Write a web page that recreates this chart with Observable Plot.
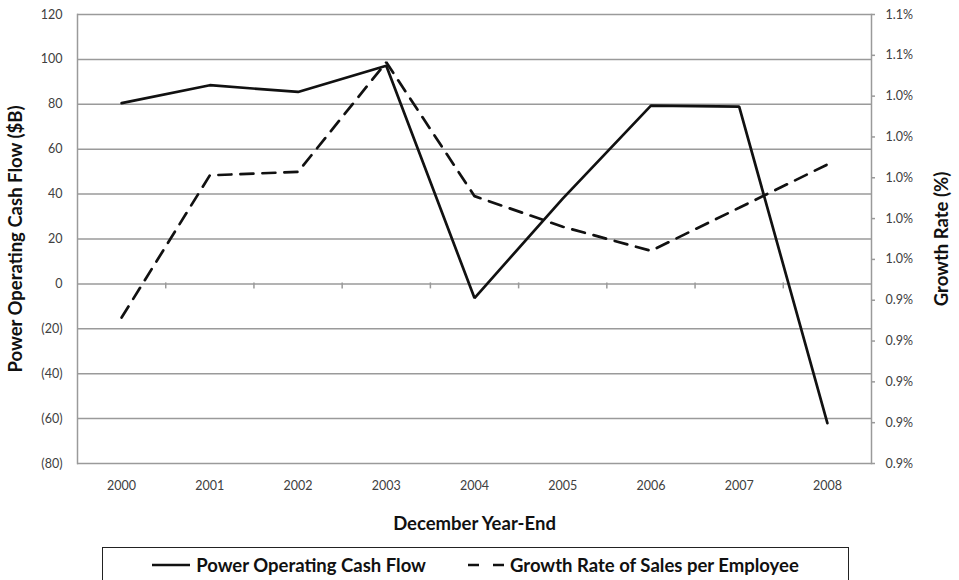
<!DOCTYPE html>
<html><head><meta charset="utf-8">
<script src="https://cdn.jsdelivr.net/npm/d3@7"></script>
<script src="https://cdn.jsdelivr.net/npm/@observablehq/plot@0.6"></script>
<style>
body{margin:0;background:#fff;font-family:Lato,"Open Sans",sans-serif;}
#chart svg{display:block;}
#legend{box-sizing:border-box;margin:5px 0 0 102px;width:747px;height:40px;border:1.5px solid #222;display:flex;justify-content:center;align-items:flex-start;padding-top:6px;gap:40px;font-weight:bold;font-size:18.5px;color:#111;}
#legend .item{display:flex;align-items:center;gap:4px;}
</style></head><body>
<div id="chart"></div>
<div id="legend"></div>
<script>
const years = [2000, 2001, 2002, 2003, 2004, 2005, 2006, 2007, 2008];
const cashFlow = [80.5, 88.5, 85.5, 97.2, -6.3, 38, 79.4, 79.0, -62];
const growthRate = [0.9315, 1.0012, 1.0029, 1.0566, 0.9910, 0.9760, 0.9642, 0.9853, 1.0065];
const leftTicks = [-80, -60, -40, -20, 0, 20, 40, 60, 80, 100, 120];
const rightTickValues = [0.86, 0.88, 0.90, 0.92, 0.94, 0.96, 0.98, 1.00, 1.02, 1.04, 1.06, 1.08];
const rightTickLabels = ["0.9%","0.9%","0.9%","0.9%","0.9%","1.0%","1.0%","1.0%","1.0%","1.0%","1.1%","1.1%"];
const seriesNames = ["Power Operating Cash Flow", "Growth Rate of Sales per Employee"];
const leftTitle = "Power Operating Cash Flow ($B)";
const rightTitle = "Growth Rate (%)";
const xTitle = "December Year-End";

const leftDomain = [leftTicks[0], leftTicks[leftTicks.length - 1]];
const rightDomain = [rightTickValues[0], rightTickValues[rightTickValues.length - 1]];
const toLeft = d3.scaleLinear().domain(rightDomain).range(leftDomain);
const rightTickPos = rightTickValues.map(toLeft);

const cashData = years.map((y, i) => ({year: y, value: cashFlow[i]}));
const growthData = years.map((y, i) => ({year: y, value: toLeft(growthRate[i])}));
const boundaries = years.slice(1).map(y => y - 0.5);
const xMax = years[years.length - 1] + 0.5;

const fmtLeft = d => d < 0 ? `(${-d})` : `${d}`;
const FONT = "Lato, 'Open Sans', sans-serif";

const plot = Plot.plot({
  width: 959,
  height: 542,
  marginLeft: 77,
  marginRight: 88,
  marginTop: 14,
  marginBottom: 79,
  style: {fontFamily: FONT, fontSize: "12.5px", background: "#fff"},
  x: {domain: [years[0] - 0.5, xMax], axis: null},
  y: {domain: leftDomain, axis: null},
  marks: [
    Plot.gridY(leftTicks, {stroke: "#9a9a9a", strokeOpacity: 1, strokeWidth: 1.5}),
    Plot.frame({anchor: "left", stroke: "#9a9a9a", strokeWidth: 1.5}),
    Plot.frame({anchor: "right", stroke: "#9a9a9a", strokeWidth: 1.5}),
    Plot.ruleX(boundaries, {y1: 0, y2: 0, insetBottom: -5, insetTop: -1, stroke: "#9a9a9a", strokeWidth: 1.5}),
    Plot.ruleY(rightTickPos, {x1: xMax, x2: xMax, insetRight: -4, stroke: "#9a9a9a", strokeWidth: 1.5}),
    Plot.axisY(leftTicks, {anchor: "left", tickSize: 0, tickPadding: 15, tickFormat: fmtLeft, label: null, fill: "#404040", fontSize: 12.5}),
    Plot.axisY(rightTickPos, {anchor: "right", tickSize: 0, tickPadding: 14, fill: "#404040", label: null, fontSize: 12.5,
      tickFormat: d => rightTickLabels[rightTickPos.findIndex(p => Math.abs(p - d) < 1e-9)]}),
    Plot.axisX(years, {anchor: "bottom", tickSize: 0, tickPadding: 18, tickFormat: d => `${d}`, label: null, fill: "#404040", fontSize: 12.5}),
    Plot.line(growthData, {x: "year", y: "value", stroke: "#111", strokeWidth: 2.7, strokeDasharray: "13,9", strokeLinejoin: "miter"}),
    Plot.line(cashData, {x: "year", y: "value", stroke: "#111", strokeWidth: 2.7, strokeLinejoin: "miter"}),
    Plot.text([leftTitle], {frameAnchor: "left", textAnchor: "middle", dx: -61, rotate: -90, text: d => d, fontWeight: "bold", fontSize: 18.5, fill: "#111"}),
    Plot.text([rightTitle], {frameAnchor: "right", textAnchor: "middle", dx: 71, rotate: -90, text: d => d, fontWeight: "bold", fontSize: 18.5, fill: "#111"}),
    Plot.text([xTitle], {frameAnchor: "bottom", dy: 66, text: d => d, fontWeight: "bold", fontSize: 18.5, fill: "#111"})
  ]
});
document.getElementById("chart").appendChild(plot);

const legend = document.getElementById("legend");
const swatches = [
  '<svg width="40" height="10"><line x1="0" y1="5" x2="38" y2="5" stroke="#111" stroke-width="2.7"/></svg>',
  '<svg width="40" height="10"><line x1="2" y1="5" x2="38" y2="5" stroke="#111" stroke-width="2.7" stroke-dasharray="11,14"/></svg>'
];
seriesNames.forEach((name, i) => {
  const item = document.createElement("div");
  item.className = "item";
  item.innerHTML = swatches[i] + `<span>${name}</span>`;
  legend.appendChild(item);
});
</script>
</body></html>
